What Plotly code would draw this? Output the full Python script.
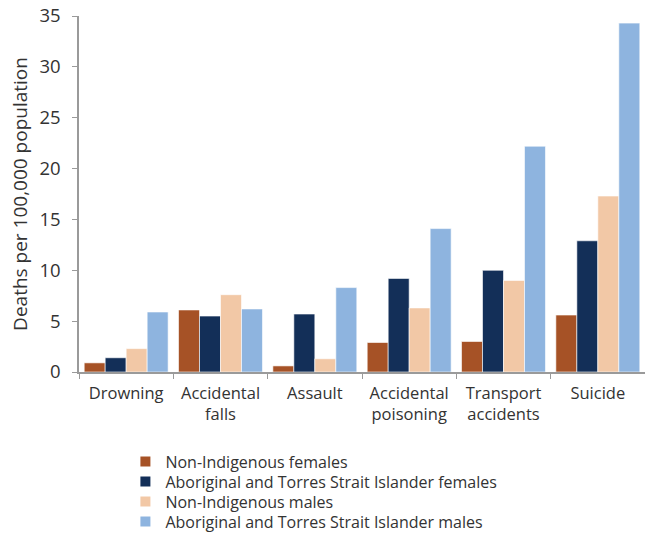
import plotly.graph_objects as go

categories = ["Drowning", "Accidental<br>falls", "Assault", "Accidental<br>poisoning", "Transport<br>accidents", "Suicide"]
series_names = [
    "Non-Indigenous females",
    "Aboriginal and Torres Strait Islander females",
    "Non-Indigenous males",
    "Aboriginal and Torres Strait Islander males",
]
non_indig_f = [0.9, 6.1, 0.6, 2.9, 3.0, 5.6]
indig_f = [1.4, 5.5, 5.7, 9.2, 10.0, 12.9]
non_indig_m = [2.3, 7.6, 1.3, 6.3, 9.0, 17.3]
indig_m = [5.9, 6.2, 8.3, 14.1, 22.2, 34.3]
colors = ["#A65226", "#132F58", "#F2C8A6", "#8EB4DF"]

# plot area: x 79..645, y 16..372 (px)
plot_top, plot_bottom = 16, 372
legend_rows_px = [461.5, 481.5, 501.5, 521.5]
legend_names = ["legend", "legend2", "legend3", "legend4"]

fig = go.Figure()
for name, vals, col, lg in zip(series_names, [non_indig_f, indig_f, non_indig_m, indig_m], colors, legend_names):
    fig.add_trace(go.Bar(x=categories, y=vals, name=name, legend=lg,
                         marker=dict(color=col, line=dict(color="white", width=0.6))))

font_family = "Open Sans, Noto Sans, sans-serif"
layout_legends = {}
for lg, py in zip(legend_names, legend_rows_px):
    layout_legends[lg] = dict(x=0.082, y=(plot_bottom - py) / (plot_bottom - plot_top), xanchor="left",
                              yanchor="middle", font=dict(size=16, color="#333333"),
                              itemsizing="constant", bgcolor="rgba(0,0,0,0)")

fig.update_layout(
    width=645, height=533,
    margin=dict(l=79, r=0, t=16, b=161, autoexpand=False),
    plot_bgcolor="white", paper_bgcolor="white",
    barmode="group", bargap=0.11, bargroupgap=0,
    font=dict(family=font_family, size=16, color="#333333"),
    showlegend=True,
    xaxis=dict(showline=True, linecolor="#9a9a9a", linewidth=1.5, ticks="outside", tickson="boundaries",
               ticklen=5, tickcolor="#9a9a9a", tickfont=dict(size=16.5), tickangle=0, showgrid=False,
               automargin=False, ticklabelstandoff=5),
    yaxis=dict(range=[0, 35], dtick=5, showline=True, linecolor="#9a9a9a", linewidth=1.5, ticks="outside",
               ticklen=5, tickcolor="#9a9a9a", tickfont=dict(size=18.5), showgrid=False, zeroline=False,
               automargin=False, ticklabelstandoff=8, ticklabeloverflow="allow",
               title=dict(text="Deaths per 100,000 population", font=dict(size=19), standoff=7)),
    **layout_legends,
)
fig.write_html("out.html", config={"displayModeBar": False},
               post_script="document.body.style.margin='0';")
